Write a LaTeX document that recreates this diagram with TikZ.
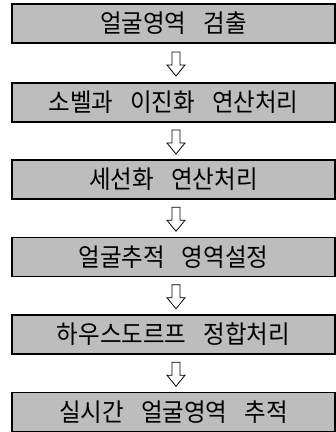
\documentclass[tikz,border=0pt]{standalone}
\usepackage{fontspec}
\usetikzlibrary{calc}
\newfontfamily\kr[FakeStretch=0.94]{Noto Sans CJK KR}
\newcommand{\wsp}{\hspace{17pt}}
\tikzset{
  stepbox/.style={draw=black, line width=1.1pt, fill=black!26, minimum width=323pt, minimum height=39pt, inner sep=0pt, font=\kr\fontsize{25pt}{26pt}\selectfont, text=black},
  downarrow/.pic={\draw[fill=white, line width=0.8pt, line join=miter] (-4,-12) -- (4,-12) -- (4,1) -- (9,1) -- (0,12) -- (-9,1) -- (-4,1) -- cycle;}
}
\begin{document}
\begin{tikzpicture}[x=1pt, y=-1pt]
\useasboundingbox (0,0) rectangle (336,432);
\node[stepbox] (b1) at (173.5,23.5) {얼굴영역\wsp 검출};
\node[stepbox] (b2) at (173.5,102.5) {소벨과\wsp 이진화\wsp 연산처리};
\node[stepbox] (b3) at (173.5,179.5) {세선화\wsp 연산처리};
\node[stepbox] (b4) at (173.5,257) {얼굴추적\wsp 영역설정};
\node[stepbox] (b5) at (173.5,334.5) {하우스도르프\wsp 정합처리};
\node[stepbox] (b6) at (173.5,412) {실시간\wsp 얼굴영역\wsp 추적};
\foreach \a/\b in {b1/b2,b2/b3,b3/b4,b4/b5,b5/b6}{
  \coordinate (m\a) at ($(\a.south)!0.5!(\b.north)+(2.5,1)$);
  \pic at (m\a) {downarrow};
}
\end{tikzpicture}
\end{document}
